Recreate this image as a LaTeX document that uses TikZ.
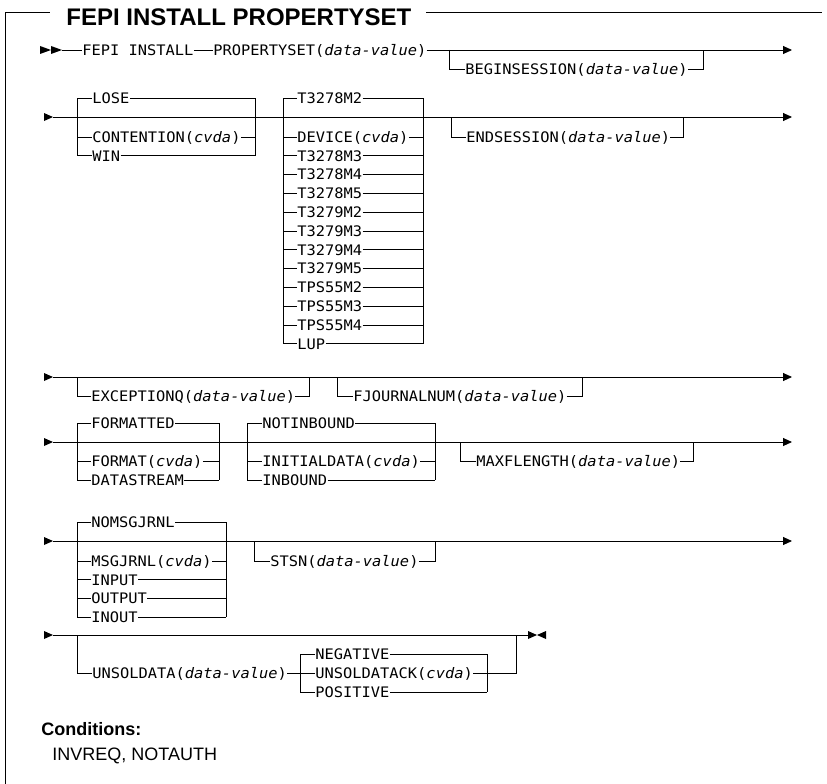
\documentclass[tikz,border=0pt]{standalone}
\usepackage{fontspec}
\setmainfont{Liberation Sans}
\newfontfamily\rrfont[FakeStretch=1.06]{DejaVu Sans Mono}
\usetikzlibrary{arrows.meta}
\begin{document}
\begin{tikzpicture}[x=1pt,y=-1pt,line width=0.9pt,
  lbl/.style={font=\rrfont\fontsize{14.5}{17}\selectfont,inner sep=0pt,text height=10.5pt,text depth=0pt,anchor=west},
  endtip/.style={-{Triangle[length=9pt,width=8pt]}},
  starttri/.style={fill=black,draw=none}]
\fill[white] (0,0) rectangle (827,784);
\useasboundingbox (0,0) rectangle (827,784);
% frame and title
\node[font=\bfseries\fontsize{24}{27}\selectfont,anchor=west,inner sep=0pt] (title) at (66,17.5) {FEPI INSTALL PROPERTYSET};
\draw (5,784) -- (5,12.7) -- (50,12.7);
\draw (426,12.7) -- (822,12.7);
% ---------- row 1
\fill[starttri] (40,46) -- (51,50) -- (40,54) -- cycle;
\fill[starttri] (51,46) -- (62,50) -- (51,54) -- cycle;
\coordinate (s1) at (62,50);
\coordinate (e1) at (792,50);
\node[lbl] (fepi) at (82,50) {FEPI INSTALL};
\node[lbl] (pset) at (213,50) {PROPERTYSET(\textit{data-value})};
\draw (s1) -- (fepi);
\draw (fepi) -- (pset);
\draw[endtip] (pset) -- (e1);
\node[lbl] (bses) at (465,69) {BEGINSESSION(\textit{data-value})};
\draw (449,50) -- (449,69) -- (bses);
\draw (bses) -- (703,69) -- (703,50);
% ---------- row 2
\fill[starttri] (44,113) -- (53,117) -- (44,121) -- cycle;
\coordinate (s2) at (53,117);
\coordinate (e2) at (792,117);
\draw[endtip] (s2) -- (e2);
% group LOSE
\draw (77,98) -- (77,155.8);
\draw (255,98) -- (255,155.8);
\node[lbl] (lose) at (92,98) {LOSE};
\node[lbl] (cont) at (92,137) {CONTENTION(\textit{cvda})};
\node[lbl] (win) at (92,155.8) {WIN};
\draw (77,98) -- (lose) -- (255,98);
\draw (77,137) -- (cont) -- (255,137);
\draw (77,155.8) -- (win) -- (255,155.8);
% group terminal types
\draw (283,98) -- (283,343.8);
\draw (423,98) -- (423,343.8);
\node[lbl] (t0) at (297,98) {T3278M2};
\draw (283,98) -- (t0) -- (423,98);
\foreach \t [count=\i from 0] in {DEVICE(\textit{cvda}),T3278M3,T3278M4,T3278M5,T3279M2,T3279M3,T3279M4,T3279M5,TPS55M2,TPS55M3,TPS55M4,LUP}{
  \node[lbl] (dv\i) at (297,137+18.8*\i) {\t};
  \draw (283,137+18.8*\i) -- (dv\i) -- (423,137+18.8*\i);
}
% ENDSESSION
\node[lbl] (eses) at (466,137) {ENDSESSION(\textit{data-value})};
\draw (451,117) -- (451,137) -- (eses);
\draw (eses) -- (683,137) -- (683,117);
% ---------- row 3
\fill[starttri] (44,373) -- (53,377) -- (44,381) -- cycle;
\coordinate (s3) at (53,377);
\coordinate (e3) at (792,377);
\draw[endtip] (s3) -- (e3);
\node[lbl] (excq) at (91,396) {EXCEPTIONQ(\textit{data-value})};
\draw (77,377) -- (77,396) -- (excq);
\draw (excq) -- (309,396) -- (309,377);
\node[lbl] (fjn) at (353,396) {FJOURNALNUM(\textit{data-value})};
\draw (337,377) -- (337,396) -- (fjn);
\draw (fjn) -- (582,396) -- (582,377);
% ---------- row 4
\fill[starttri] (44,438) -- (53,442) -- (44,446) -- cycle;
\coordinate (s4) at (53,442);
\coordinate (e4) at (792,442);
\draw[endtip] (s4) -- (e4);
\draw (77,423) -- (77,480);
\draw (219,423) -- (219,480);
\node[lbl] (fmtd) at (91,423) {FORMATTED};
\node[lbl] (fmt) at (91,461) {FORMAT(\textit{cvda})};
\node[lbl] (dstr) at (91,480) {DATASTREAM};
\draw (77,423) -- (fmtd) -- (219,423);
\draw (77,461) -- (fmt) -- (219,461);
\draw (77,480) -- (dstr) -- (219,480);
\draw (247,423) -- (247,480);
\draw (435,423) -- (435,480);
\node[lbl] (nib) at (262,423) {NOTINBOUND};
\node[lbl] (inid) at (262,461) {INITIALDATA(\textit{cvda})};
\node[lbl] (inb) at (262,480) {INBOUND};
\draw (247,423) -- (nib) -- (435,423);
\draw (247,461) -- (inid) -- (435,461);
\draw (247,480) -- (inb) -- (435,480);
\node[lbl] (mxf) at (476,461) {MAXFLENGTH(\textit{data-value})};
\draw (460,442) -- (460,461) -- (mxf);
\draw (mxf) -- (693,461) -- (693,442);
% ---------- row 5
\fill[starttri] (44,537) -- (53,541) -- (44,545) -- cycle;
\coordinate (s5) at (53,541);
\coordinate (e5) at (792,541);
\draw[endtip] (s5) -- (e5);
\draw (77,522) -- (77,617);
\draw (226,522) -- (226,617);
\node[lbl] (nomj) at (91,522) {NOMSGJRNL};
\draw (77,522) -- (nomj) -- (226,522);
\foreach \t [count=\i from 0] in {MSGJRNL(\textit{cvda}),INPUT,OUTPUT,INOUT}{
  \node[lbl] (mj\i) at (91,561+18.8*\i) {\t};
  \draw (77,561+18.8*\i) -- (mj\i) -- (226,561+18.8*\i);
}
\node[lbl] (stsn) at (270,561) {STSN(\textit{data-value})};
\draw (254,541) -- (254,561) -- (stsn);
\draw (stsn) -- (435,561) -- (435,541);
% ---------- row 6
\fill[starttri] (44,631) -- (53,635) -- (44,639) -- cycle;
\coordinate (s6) at (53,635);
\coordinate (e6) at (528,635);
\draw (s6) -- (e6);
\fill[starttri] (528,631) -- (537,635) -- (528,639) -- cycle;
\fill[starttri] (546,631) -- (537,635) -- (546,639) -- cycle;
\node[lbl] (unsd) at (92,673) {UNSOLDATA(\textit{data-value})};
\draw (77,635) -- (77,673) -- (unsd);
\draw (300,654) -- (300,692);
\draw (487,654) -- (487,692);
\node[lbl] (neg) at (315,654) {NEGATIVE};
\node[lbl] (uack) at (315,673) {UNSOLDATACK(\textit{cvda})};
\node[lbl] (pos) at (315,692) {POSITIVE};
\draw (unsd) -- (uack);
\draw (300,654) -- (neg) -- (487,654);
\draw (uack) -- (516,673) -- (516,635);
\draw (300,692) -- (pos) -- (487,692);
% ---------- conditions
\node[font=\bfseries\fontsize{18}{21}\selectfont,anchor=base west,inner sep=0pt] (cond) at (41,735) {Conditions:};
\node[font=\fontsize{18}{21}\selectfont,anchor=base west,inner sep=0pt] (cl) at (52,760) {INVREQ, NOTAUTH};
\end{tikzpicture}
\end{document}
